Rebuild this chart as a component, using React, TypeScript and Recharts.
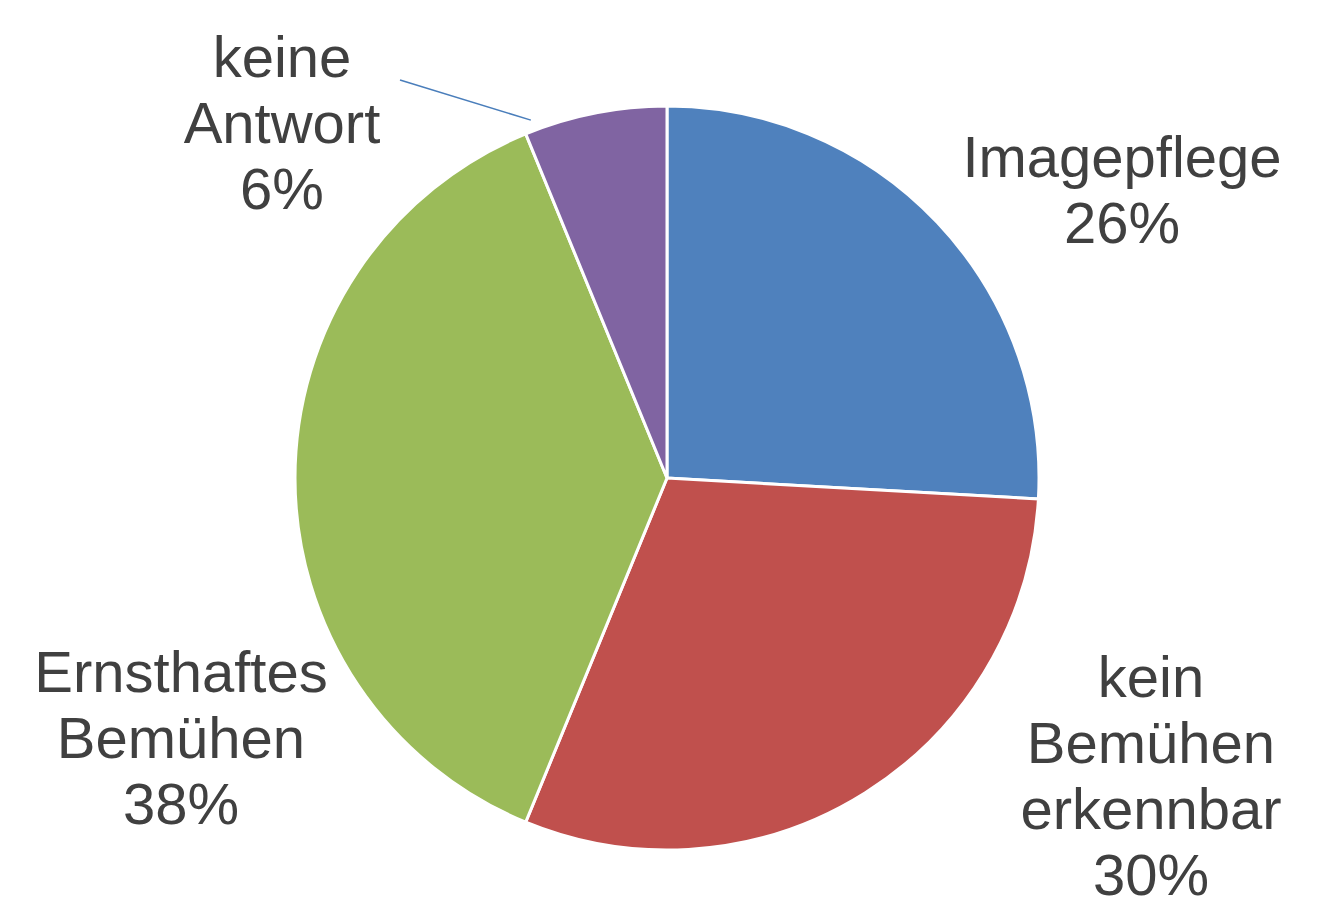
import { Pie, PieChart, Cell } from 'recharts';

const CATEGORIES = ['Imagepflege', 'kein Bemühen erkennbar', 'Ernsthaftes Bemühen', 'keine Antwort'];
const SHARES = [25.9, 30.3, 37.6, 6.2];
const COLORS = ['#4F81BD', '#C0504D', '#9BBB59', '#8064A2'];

// label block centres, relative to pie centre (layout only)
const LABEL_OFFSETS = [
  { dx: 455, dy: -288 },
  { dx: 484, dy: 298 },
  { dx: -486, dy: 260 },
  { dx: -385, dy: -355 },
];

const FONT = '"Liberation Sans", Arial, sans-serif';
const FONT_SIZE = 58;
const LINE_H = 66;

const data = CATEGORIES.map((name, i) => ({ name, value: SHARES[i] }));

function renderLabel(props: any) {
  const { cx, cy, index, percent, name, outerRadius } = props;
  const off = LABEL_OFFSETS[index];
  const lines = [...String(name).split(' '), `${Math.round(percent * 100)}%`];
  const x = cx + off.dx;
  const y0 = cy + off.dy - ((lines.length - 1) * LINE_H) / 2 + 20;
  return (
    <g key={`lbl-${index}`}>
      {index === 3 && (
        <line
          x1={x + 118}
          y1={cy + off.dy - 43}
          x2={cx - outerRadius * 0.366}
          y2={cy - outerRadius * 0.962}
          stroke="#4A7EBB"
          strokeWidth={1.5}
        />
      )}
      <text x={x} y={y0} textAnchor="middle" fill="#404040" fontFamily={FONT} fontSize={FONT_SIZE}>
        {lines.map((l, i) => (
          <tspan key={i} x={x} y={y0 + i * LINE_H}>
            {l}
          </tspan>
        ))}
      </text>
    </g>
  );
}

export default function App() {
  return (
    <div style={{ position: 'absolute', left: 0, top: 0, width: 1317, height: 905, background: '#fff' }}>
      <PieChart width={1317} height={905} margin={{ top: 0, right: 0, bottom: 0, left: 0 }}>
        <Pie
          data={data}
          dataKey="value"
          nameKey="name"
          cx={667}
          cy={478}
          outerRadius={372}
          startAngle={90}
          endAngle={-270}
          stroke="#FFFFFF"
          strokeWidth={3}
          label={renderLabel}
          labelLine={false}
          isAnimationActive={false}
        >
          {data.map((_, i) => (
            <Cell key={i} fill={COLORS[i]} />
          ))}
        </Pie>
      </PieChart>
    </div>
  );
}
